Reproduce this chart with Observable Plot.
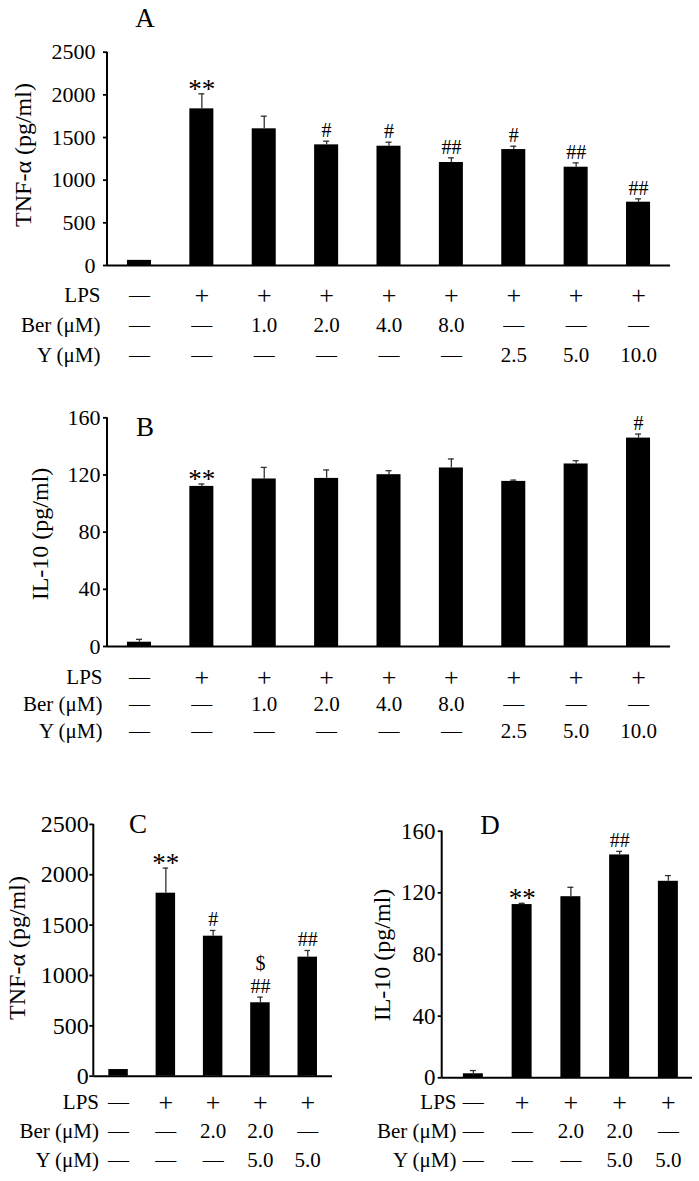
<!DOCTYPE html>
<html><head><meta charset="utf-8">
<script src="https://cdn.jsdelivr.net/npm/d3@7"></script>
<script src="https://cdn.jsdelivr.net/npm/@observablehq/plot@0.6"></script>
<style>
body{margin:0;background:#fff;}
#fig{position:relative;width:699px;height:1181px;font-family:"Liberation Serif","Times New Roman",serif;color:#000;overflow:hidden;}
#fig svg, #fig svg text{font-family:"Liberation Serif","Times New Roman",serif !important;}
.letter{position:absolute;font-size:27px;line-height:1;transform:translate(-50%,-50%);white-space:nowrap;}
.ylab{position:absolute;font-size:24px;line-height:1;white-space:nowrap;transform:translate(-50%,-50%) rotate(-90deg);}
</style></head><body><div id="fig"></div>
<script>
// ---------- data ----------
const rowLabels = ["LPS", "Ber (μM)", "Y (μM)"];

const groupsAB = ["1","2","3","4","5","6","7","8","9"];
const lpsAB = ["—","+","+","+","+","+","+","+","+"];
const berAB = ["—","—","1.0","2.0","4.0","8.0","—","—","—"];
const yAB   = ["—","—","—","—","—","—","2.5","5.0","10.0"];

const tnfA    = [60, 1836, 1602, 1414, 1398, 1207, 1359, 1152, 742];
const tnfAErr = [0, 176, 148, 43, 47, 55, 39, 51, 39];
const tnfASig = ["", "**", "", "#", "#", "##", "#", "##", "##"];

const il10B    = [3.0, 112.0, 117.2, 117.6, 120.2, 124.9, 115.5, 127.7, 145.8];
const il10BErr = [2.0, 1.7, 8.1, 5.9, 2.8, 6.3, 0.9, 2.3, 2.8];
const il10BSig = ["", "**", "", "", "", "", "", "", "#"];

const groupsCD = ["1","2","3","4","5"];
const lpsCD = ["—","+","+","+","+"];
const berCD = ["—","—","2.0","2.0","—"];
const yCD   = ["—","—","—","5.0","5.0"];

const tnfC    = [66, 1817, 1390, 729, 1182];
const tnfCErr = [0, 249, 57, 56, 66];
const tnfCSig = ["", "**", "#", "$\n##", "##"];

const il10D    = [2.6, 112.4, 117.5, 144.6, 127.5];
const il10DErr = [2.1, 0.8, 6.1, 2.3, 3.7];
const il10DSig = ["", "**", "", "##", ""];

const tnfTicks  = [0, 500, 1000, 1500, 2000, 2500];
const il10Ticks = [0, 40, 80, 120, 160];

// ---------- drawing ----------
const FONT = '"Liberation Serif","Times New Roman",serif';
const fig = document.getElementById("fig");

function place(node, left, top) {
  node.style.position = "absolute";
  node.style.left = left + "px";
  node.style.top = top + "px";
  fig.appendChild(node);
}
function html(cls, text, cx, cy) {
  const d = document.createElement("div");
  d.className = cls;
  d.textContent = text;
  d.style.left = cx + "px";
  d.style.top = cy + "px";
  fig.appendChild(d);
}
function styleStr(size) {
  return `font-family:${FONT};font-size:${size}px;color:#000;background:transparent;overflow:visible;max-width:none;`;
}
// vertical axis line drawn from the y scale at the left edge of the frame
function axisLine(top) {
  return (index, scales, values, dims) =>
    d3.create("svg:line")
      .attr("x1", dims.marginLeft).attr("x2", dims.marginLeft)
      .attr("y1", scales.y(top)).attr("y2", scales.y(0))
      .attr("stroke", "#000").attr("stroke-width", 2)
      .node();
}

function chart(o) {
  const data = o.groups.map((g, i) => ({g, v: o.values[i], e: o.errors[i], s: o.sig[i]}));
  const withErr = data.filter(d => d.e > 0);
  const svg = Plot.plot({
    width: o.width, height: o.height,
    marginLeft: o.ml, marginRight: o.width - o.xEnd, marginTop: o.mt, marginBottom: o.mb,
    style: styleStr(o.tickFont),
    x: {type: "band", domain: o.groups, range: [o.ml, o.xEnd], paddingInner: o.pi, paddingOuter: o.po, align: o.align ?? 0.5, round: false, axis: null},
    y: {domain: o.domain, axis: null},
    marks: [
      Plot.barY(data, {x: "g", y: "v", fill: "#000"}),
      Plot.ruleX(withErr, {x: "g", y1: "v", y2: d => d.v + d.e, stroke: "#333", strokeWidth: 1.3}),
      Plot.tickY(withErr, {x: "g", y: d => d.v + d.e, stroke: "#333", strokeWidth: 1.3, insetLeft: o.capInset, insetRight: o.capInset}),
      Plot.ruleY([0], {stroke: "#000", strokeWidth: 2}),
      axisLine(o.domain[1]),
      Plot.axisY({ticks: o.ticks, tickFormat: d => String(d), tickSize: 4, tickPadding: o.tickPad, label: null, strokeWidth: 1.8}),
      Plot.text(data.filter(d => d.s.includes("*")), {x: "g", y: d => d.v + d.e, text: "s", lineAnchor: "bottom", dy: 4, fontSize: 27}),
      Plot.text(data.filter(d => d.s && !d.s.includes("*")), {x: "g", y: d => d.v + d.e, text: "s", lineAnchor: "bottom", dy: -4, fontSize: 20, lineHeight: 1.15})
    ]
  });
  place(svg, o.left, o.top);
}

function table(o) {
  const cells = [];
  o.groups.forEach((g, i) => rowLabels.forEach((r, j) => cells.push({g, r, t: o.cols[j][i]})));
  const plus = cells.filter(d => d.t === "+");
  const rest = cells.filter(d => d.t !== "+");
  const svg = Plot.plot({
    width: o.width, height: o.height,
    marginLeft: o.labelEnd, marginRight: o.width - o.xEnd, marginTop: o.mt, marginBottom: o.mb,
    style: styleStr(21),
    x: {type: "band", domain: o.groups, range: [o.ax, o.xEnd], paddingInner: o.pi, paddingOuter: o.po, align: o.align ?? 0.5, round: false, axis: null},
    y: {type: "point", domain: rowLabels, padding: 0, axis: null},
    marks: [
      Plot.axisY({tickSize: 0, tickPadding: 0, label: null}),
      Plot.text(rest, {x: "g", y: "r", text: "t", fontSize: 21}),
      Plot.text(plus, {x: "g", y: "r", text: "t", fontSize: 26})
    ]
  });
  place(svg, o.left, o.top);
}

// Panel A
chart({left: 0, top: 0, width: 699, height: 270, ml: 107, xEnd: 670, mt: 51.7, mb: 5,
  groups: groupsAB, values: tnfA, errors: tnfAErr, sig: tnfASig, domain: [0, 2500], ticks: tnfTicks,
  pi: 0.615, po: 0.32, capInset: 9, tickFont: 22, tickPad: 8});
table({left: 0, top: 280, width: 699, height: 90, mt: 15, mb: 15, labelEnd: 100, ax: 107, xEnd: 670,
  groups: groupsAB, cols: [lpsAB, berAB, yAB], pi: 0.615, po: 0.32});
html("letter", "A", 145, 18);
html("ylab", "TNF-α (pg/ml)", 23, 155);

// Panel B
chart({left: 0, top: 400, width: 699, height: 251, ml: 107, xEnd: 670, mt: 17.3, mb: 5,
  groups: groupsAB, values: il10B, errors: il10BErr, sig: il10BSig, domain: [0, 160], ticks: il10Ticks,
  pi: 0.615, po: 0.32, capInset: 9, tickFont: 22, tickPad: 3});
table({left: 0, top: 661, width: 699, height: 85, mt: 15, mb: 15, labelEnd: 102, ax: 107, xEnd: 670,
  groups: groupsAB, cols: [lpsAB, berAB, yAB], pi: 0.615, po: 0.32});
html("letter", "B", 145, 427);
html("ylab", "IL-10 (pg/ml)", 40, 533.5);

// Panel C
chart({left: 0, top: 800, width: 345, height: 280.7, ml: 93.3, xEnd: 332, mt: 23.9, mb: 5,
  groups: groupsCD, values: tnfC, errors: tnfCErr, sig: tnfCSig, domain: [0, 2500], ticks: tnfTicks,
  pi: 0.588, po: 0.3175, capInset: 7, tickFont: 24, tickPad: 1});
table({left: 0, top: 1087, width: 345, height: 88, mt: 15, mb: 15, labelEnd: 98.5, ax: 93.3, xEnd: 332,
  groups: groupsCD, cols: [lpsCD, berCD, yCD], pi: 0.588, po: 0.3175});
html("letter", "C", 138, 823.5);
html("ylab", "TNF-α (pg/ml)", 17, 948);

// Panel D
chart({left: 360, top: 800, width: 339, height: 282.3, ml: 81.7, xEnd: 332, mt: 30.7, mb: 5,
  groups: groupsCD, values: il10D, errors: il10DErr, sig: il10DSig, domain: [0, 160], ticks: il10Ticks,
  pi: 0.59, po: 0.362, align: 0.6, capInset: 7, tickFont: 23, tickPad: 2.7});
table({left: 360, top: 1087, width: 339, height: 88, mt: 15, mb: 15, labelEnd: 96, ax: 81.7, xEnd: 332,
  groups: groupsCD, cols: [lpsCD, berCD, yCD], pi: 0.59, po: 0.362, align: 0.6});
html("letter", "D", 490, 825);
html("ylab", "IL-10 (pg/ml)", 381.7, 955);
</script></body></html>
